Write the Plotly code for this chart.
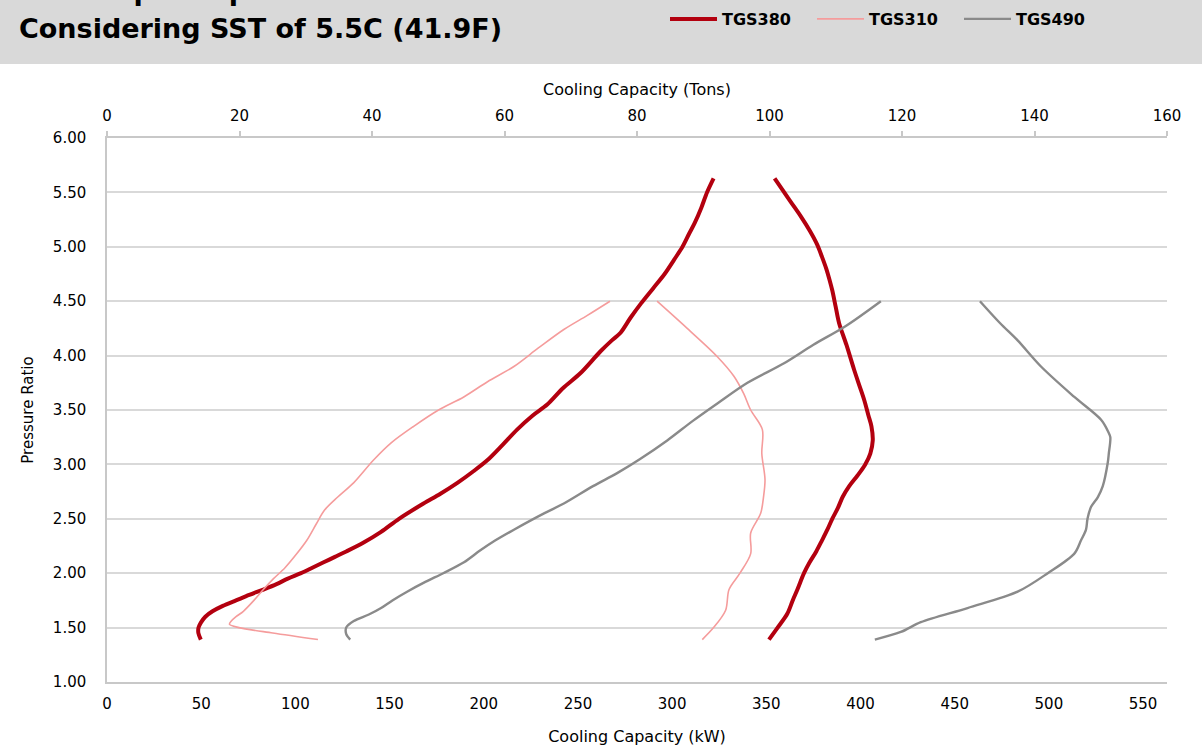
import plotly.graph_objects as go

KW_PER_TON = 3.51685
TONS_MAX = 160

title_line1 = "TGS Map Comparisons"
title_line2 = "Considering SST of 5.5C (41.9F)"

# TGS380 - low-flow (surge) branch, bottom to top
tgs380_low_ratio = [1.39, 1.45, 1.50, 1.55, 1.60, 1.65, 1.70, 1.75, 1.80, 1.85, 1.90, 1.95, 2.00, 2.05,
                    2.10, 2.15, 2.20, 2.28, 2.38, 2.50, 2.64, 2.73, 2.83, 2.93, 3.04, 3.18, 3.32, 3.45,
                    3.55, 3.70, 3.84, 4.04, 4.14, 4.21, 4.35, 4.48, 4.62, 4.75, 4.88, 5.00, 5.12, 5.22,
                    5.36, 5.50, 5.63]
tgs380_low_kw = [49.8, 48.5, 48.6, 50.0, 52.2, 56.0, 61.5, 68.5, 75.5, 83.0, 90.0, 96.0, 103.0, 109.0,
                 115.0, 121.0, 127.0, 136.0, 145.5, 155.0, 168.0, 177.0, 186.0, 194.0, 202.0, 210.0, 217.7, 226.0,
                 233.7, 242.0, 251.4, 262.0, 268.0, 272.6, 278.0, 283.5, 290.0, 296.0, 301.0, 305.5, 309.0, 312.0,
                 315.5, 318.5, 322.0]
# TGS380 - high-flow (choke) branch, top to bottom
tgs380_high_ratio = [5.63, 5.50, 5.40, 5.28, 5.15, 5.02, 4.91, 4.80, 4.70, 4.60, 4.45, 4.30, 4.10, 3.87,
                     3.72, 3.59, 3.45, 3.35, 3.22, 3.10, 3.00, 2.90, 2.80, 2.70, 2.60, 2.50, 2.40, 2.30,
                     2.20, 2.10, 2.00, 1.85, 1.75, 1.63, 1.50, 1.39]
tgs380_high_kw = [354.4, 359.5, 363.5, 368.3, 373.0, 377.0, 379.5, 381.8, 383.5, 385.0, 386.8, 388.6, 392.5, 396.6,
                  399.5, 402.0, 404.2, 405.8, 406.5, 405.2, 402.5, 398.5, 394.0, 390.5, 388.0, 385.0, 382.4, 379.5,
                  376.5, 373.0, 370.0, 366.5, 364.0, 361.2, 356.0, 351.4]

# TGS310
tgs310_low_ratio = [1.39, 1.45, 1.50, 1.53, 1.56, 1.60, 1.65, 1.75, 1.85, 1.95, 2.05, 2.18, 2.30, 2.45,
                    2.58, 2.70, 2.83, 3.04, 3.20, 3.35, 3.50, 3.62, 3.76, 3.90, 4.07, 4.24, 4.37, 4.50]
tgs310_low_kw = [112.0, 88.0, 70.0, 65.0, 66.0, 68.5, 72.4, 78.0, 83.0, 88.4, 94.5, 100.8, 106.0, 111.0,
                 115.5, 122.5, 130.9, 141.5, 151.0, 162.8, 176.0, 189.4, 202.0, 216.0, 229.0, 242.5, 255.0, 267.0]
tgs310_high_ratio = [4.50, 4.25, 3.99, 3.81, 3.65, 3.50, 3.32, 3.10, 2.86, 2.70, 2.55, 2.37, 2.18, 2.00,
                     1.85, 1.66, 1.50, 1.39]
tgs310_high_kw = [292.0, 308.0, 324.0, 332.8, 338.0, 341.7, 347.9, 347.6, 349.3, 348.5, 347.0, 341.7, 341.7, 336.0,
                  330.2, 328.4, 322.0, 316.0]

# TGS490
tgs490_low_ratio = [1.39, 1.44, 1.50, 1.56, 1.62, 1.68, 1.75, 1.83, 1.92, 2.00, 2.10, 2.21, 2.30, 2.40,
                    2.55, 2.64, 2.80, 2.92, 3.05, 3.22, 3.40, 3.56, 3.75, 3.93, 4.10, 4.27, 4.50]
tgs490_low_kw = [129.1, 127.0, 127.0, 131.0, 139.0, 145.5, 151.5, 159.3, 169.0, 178.5, 189.5, 198.2, 206.0, 216.0,
                 232.0, 242.5, 258.0, 270.8, 283.0, 297.4, 311.0, 324.0, 340.0, 359.4, 375.0, 392.0, 410.8]
tgs490_high_ratio = [4.50, 4.30, 4.14, 3.90, 3.62, 3.41, 3.30, 3.25, 3.10, 3.01, 2.80, 2.70, 2.61, 2.50,
                     2.40, 2.30, 2.18, 2.00, 1.83, 1.68, 1.55, 1.46, 1.39]
tgs490_high_kw = [463.4, 474.0, 483.4, 495.8, 513.5, 527.7, 531.5, 532.6, 531.8, 531.2, 528.6, 526.0, 522.4, 520.5,
                  519.7, 517.0, 513.5, 499.4, 483.4, 456.8, 432.0, 421.4, 407.6]

series = [
    ("TGS380", tgs380_low_kw, tgs380_low_ratio, tgs380_high_kw, tgs380_high_ratio, "#b3000f", 4),
    ("TGS310", tgs310_low_kw, tgs310_low_ratio, tgs310_high_kw, tgs310_high_ratio, "#f59c9c", 1.6),
    ("TGS490", tgs490_low_kw, tgs490_low_ratio, tgs490_high_kw, tgs490_high_ratio, "#8a8a8a", 2.4),
]

FONT = "DejaVu Sans"

fig = go.Figure()
for name, lk, lr, hk, hr, color, width in series:
    fig.add_trace(go.Scatter(
        x=list(lk) + [None] + list(hk),
        y=list(lr) + [None] + list(hr),
        mode="lines", name=name, connectgaps=False,
        line=dict(color=color, width=width, shape="spline", smoothing=0.9),
        xaxis="x", yaxis="y",
    ))

# Same TGS380 data expressed in tons, drawn invisibly so the top (tons) axis is created
fig.add_trace(go.Scatter(
    x=[v / KW_PER_TON for v in tgs380_low_kw], y=tgs380_low_ratio,
    mode="lines", line=dict(width=0, color="rgba(0,0,0,0)"),
    showlegend=False, hoverinfo="skip", xaxis="x2", yaxis="y",
))

kw_max = TONS_MAX * KW_PER_TON

fig.update_layout(
    width=1202, height=746,
    paper_bgcolor="white", plot_bgcolor="white",
    margin=dict(l=107, r=35, t=138, b=64, autoexpand=False),
    font=dict(family=FONT, size=15, color="#000000"),
    xaxis=dict(
        range=[0, kw_max], tick0=0, dtick=50, showgrid=False, zeroline=False,
        showline=True, linecolor="#c8c8c8", linewidth=1.5, ticks="",
        ticklabelstandoff=7,
        title=dict(text="Cooling Capacity (kW)", font=dict(size=16), standoff=19),
        tickfont=dict(size=15),
    ),
    xaxis2=dict(
        range=[0, TONS_MAX], tick0=0, dtick=20, overlaying="x", side="top", anchor="y",
        showgrid=False, zeroline=False, showline=True, linecolor="#c8c8c8", linewidth=1.5,
        ticks="outside", ticklen=5, tickcolor="#c8c8c8", tickwidth=1.5,
        ticklabelstandoff=4,
        title=dict(text="Cooling Capacity (Tons)", font=dict(size=16), standoff=8),
        tickfont=dict(size=15),
    ),
    yaxis=dict(
        range=[1, 6], tick0=1, dtick=0.5, tickformat=".2f",
        showgrid=True, gridcolor="#d9d9d9", gridwidth=1.5, zeroline=False,
        showline=True, linecolor="#c8c8c8", linewidth=1.5, ticks="",
        ticklabelstandoff=16,
        title=dict(text="Pressure Ratio", font=dict(size=15), standoff=16),
        tickfont=dict(size=15),
    ),
    legend=dict(
        orientation="h", xref="container", yref="container",
        x=665 / 1202, y=1 - 19 / 746, xanchor="left", yanchor="middle",
        font=dict(size=16, weight="bold", color="#000000"),
        itemwidth=47, entrywidth=85, bgcolor="rgba(0,0,0,0)",
    ),
    shapes=[dict(
        type="rect", xref="paper", yref="paper",
        x0=-0.2, x1=1.2, y0=(682 - 64) / 544, y1=1.5,
        fillcolor="#d9d9d9", line=dict(width=0), layer="below",
    )],
    annotations=[
        dict(text=title_line1, xref="paper", yref="paper", x=(17 - 107) / 1060, y=(682 + 9) / 544,
             xanchor="left", yanchor="middle", showarrow=False,
             font=dict(family=FONT, size=27, weight="bold", color="#000000")),
        dict(text=title_line2, xref="paper", yref="paper", x=(17 - 107) / 1060, y=(682 - 29) / 544,
             xanchor="left", yanchor="middle", showarrow=False,
             font=dict(family=FONT, size=27, weight="bold", color="#000000")),
    ],
)

fig.write_html("out.html", config={"displayModeBar": False},
               post_script="document.body.style.margin='0';")
